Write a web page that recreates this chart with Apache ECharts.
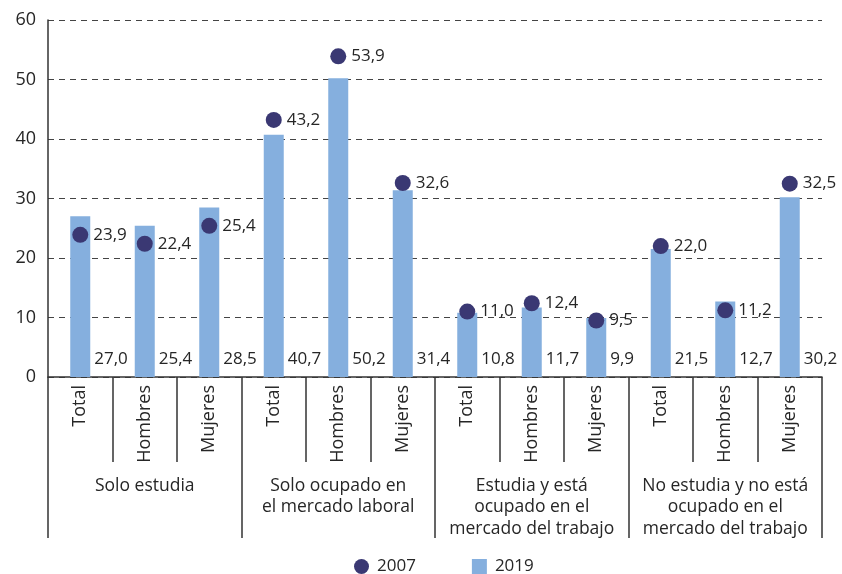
<!DOCTYPE html>
<html>
<head>
<meta charset="utf-8">
<script src="https://cdn.jsdelivr.net/npm/echarts@6/dist/echarts.min.js"></script>
<style>
  html, body { margin: 0; padding: 0; background: #fff; }
  #chart { width: 842px; height: 574px; }
</style>
</head>
<body>
<div id="chart"></div>
<script>
// Sub-categories (one per bar) and their groups
const subLabels = ['Total', 'Hombres', 'Mujeres', 'Total', 'Hombres', 'Mujeres',
                   'Total', 'Hombres', 'Mujeres', 'Total', 'Hombres', 'Mujeres'];
const groupLabels = [
  'Solo estudia',
  'Solo ocupado en\nel mercado laboral',
  'Estudia y está\nocupado en el\nmercado del trabajo',
  'No estudia y no está\nocupado en el\nmercado del trabajo'
];
// Percentages by year
const values2019 = [27.0, 25.4, 28.5, 40.7, 50.2, 31.4, 10.8, 11.7, 9.9, 21.5, 12.7, 30.2];
const values2007 = [23.9, 22.4, 25.4, 43.2, 53.9, 32.6, 11.0, 12.4, 9.5, 22.0, 11.2, 32.5];
const yTicks = [0, 10, 20, 30, 40, 50, 60];

const FONT = 'Open Sans';
const TEXT = '#262626';
const AXIS = '#333';
const fmt = v => v.toFixed(1).replace('.', ',');

const chart = echarts.init(document.getElementById('chart'), null, { renderer: 'canvas' });

chart.setOption({
  animation: false,
  textStyle: { fontFamily: FONT, color: TEXT },
  grid: { left: 48, right: 20, top: 20, bottom: 197, containLabel: false },
  legend: {
    left: 349,
    top: 553,
    itemGap: 56,
    itemWidth: 15,
    itemHeight: 15,
    textStyle: { fontFamily: FONT, fontSize: 17, color: TEXT, padding: [0, 0, 0, 3] },
    data: [
      { name: '2007', icon: 'circle' },
      { name: '2019', icon: 'rect' }
    ]
  },
  xAxis: [
    {
      type: 'category',
      data: subLabels,
      position: 'bottom',
      axisLine: { show: true, lineStyle: { color: AXIS, width: 1.5 } },
      axisTick: { show: true, interval: 0, length: 85, lineStyle: { color: AXIS, width: 1.5 } },
      axisLabel: {
        interval: 0, rotate: 90, margin: 8,
        fontFamily: FONT, fontSize: 18, color: TEXT
      },
      splitLine: { show: false }
    },
    {
      type: 'category',
      data: groupLabels,
      position: 'bottom',
      offset: 0,
      axisLine: { show: false },
      axisTick: { show: true, interval: 0, length: 161, lineStyle: { color: AXIS, width: 1.5 } },
      axisLabel: {
        interval: 0, margin: 98, lineHeight: 21.5,
        fontFamily: FONT, fontSize: 17.5, color: TEXT, verticalAlign: 'top'
      },
      splitLine: { show: false }
    }
  ],
  yAxis: {
    type: 'value',
    min: yTicks[0],
    max: yTicks[yTicks.length - 1],
    interval: 10,
    axisLine: { show: true, lineStyle: { color: AXIS, width: 1.5 } },
    axisTick: { show: false },
    axisLabel: { margin: 12, fontFamily: FONT, fontSize: 18, color: TEXT },
    splitLine: { show: true, lineStyle: { color: '#444', type: [6, 5], width: 1 } }
  },
  series: [
    {
      name: '2019',
      type: 'bar',
      xAxisIndex: 0,
      data: values2019,
      barWidth: 20,
      itemStyle: { color: '#85AFDE' },
      z: 2,
      label: {
        show: true,
        position: 'insideBottom',
        distance: 9,
        align: 'left',
        offset: [14, 0],
        formatter: p => fmt(p.value),
        fontFamily: FONT, fontSize: 17, color: TEXT
      }
    },
    {
      name: '2007',
      type: 'scatter',
      xAxisIndex: 0,
      data: values2007,
      symbol: 'circle',
      symbolSize: 16,
      itemStyle: { color: '#3A3873', opacity: 1 },
      z: 3,
      label: {
        show: true,
        position: 'right',
        distance: 5,
        formatter: p => fmt(p.value),
        fontFamily: FONT, fontSize: 17, color: TEXT
      }
    }
  ]
});
</script>
</body>
</html>
